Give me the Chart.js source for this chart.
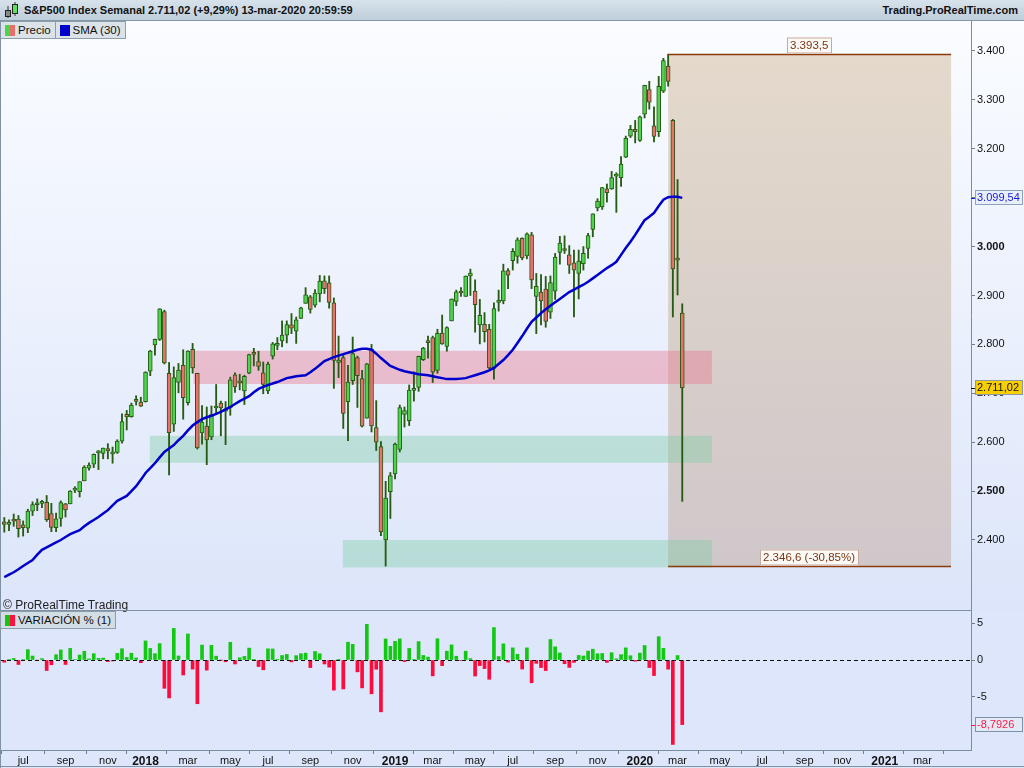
<!DOCTYPE html>
<html>
<head>
<meta charset="utf-8">
<title>S&amp;P500 Index Semanal</title>
<script src="https://cdn.jsdelivr.net/npm/chart.js@4.4.1/dist/chart.umd.min.js"></script>
<style>
    body { margin: 0; background: #dfe7f9; font-family: "Liberation Sans", Arial, sans-serif; }
    #wrap { position: relative; width: 1024px; height: 768px; overflow: hidden; }
    #mainBg { position: absolute; left: 0; top: 21px; width: 1024px; height: 590px; background: linear-gradient(#fafcff, #dce5fa); }
    #lowBg { position: absolute; left: 0; top: 611px; width: 1024px; height: 157px; background: #dde6fb; }
    #header { position: absolute; left: 0; top: 0; width: 1024px; height: 20px; background: linear-gradient(#d7e2eb, #bfcedb); border-bottom: 1px solid #8597a8; }
    #title { position: absolute; left: 24px; top: 4px; font-size: 11px; font-weight: bold; color: #111; white-space: nowrap; }
    #site { position: absolute; right: 6px; top: 4px; font-size: 11px; font-weight: bold; color: #111; }
    .legRow { position: absolute; left: 0; display: flex; }
    .leg { position: relative; height: 16px; background: #dbe2e8; border: 1px solid #8d9dab; margin-right: -1px;
           font-size: 11.5px; color: #111; line-height: 16px; white-space: nowrap; padding: 0 4px 0 17px; }
    .ico { position: absolute; left: 4px; top: 3px; width: 10px; height: 11px; }
    canvas { position: absolute; left: 0; }
    #copy { position: absolute; left: 3px; top: 598px; font-size: 12px; color: #222; }
    .line { position: absolute; background: #7f91a3; }
</style>
</head>
<body>
<div id="wrap">
    <div id="mainBg"></div>
    <div id="lowBg"></div>

    <canvas id="priceChart" width="1024" height="590" style="top:21px"></canvas>
    <canvas id="varChart" width="1024" height="157" style="top:611px"></canvas>

    <div id="header">
        <svg width="20" height="20" style="position:absolute;left:2px;top:0">
            <line x1="6" y1="6" x2="6" y2="18" stroke="#333" stroke-width="1"/>
            <rect x="3.5" y="10.5" width="5" height="6" fill="#888" stroke="#222"/>
            <line x1="13" y1="2" x2="13" y2="16" stroke="#333" stroke-width="1"/>
            <rect x="10.5" y="4.5" width="5" height="9" fill="#5ee05e" stroke="#222"/>
        </svg>
        <div id="title">S&amp;P500 Index Semanal 2.711,02 (+9,29%) 13-mar-2020 20:59:59</div>
        <div id="site">Trading.ProRealTime.com</div>
    </div>

    <div class="legRow" style="top:21px">
        <div class="leg">
            <span class="ico" style="background:linear-gradient(90deg,#4cd44c 50%,#e8706a 50%)"></span>Precio
        </div>
        <div class="leg">
            <span class="ico" style="background:#0000cc"></span>SMA (30)
        </div>
    </div>

    <div id="copy">© ProRealTime Trading</div>
    <div class="line" style="left:0;top:610px;width:971px;height:1px"></div>
    <div class="line" style="left:0;top:21px;width:1px;height:747px"></div>
    <div class="line" style="left:0;top:766px;width:1024px;height:1px"></div>

    <div class="legRow" style="top:611px">
        <div class="leg" style="background:#d3dde6">
            <span class="ico" style="background:linear-gradient(90deg,#11c811 50%,#ff1040 50%)"></span>VARIACIÓN % (1)
        </div>
    </div>
</div>

<script>
// weekly bars, first bar = week of 5 Jun 2017, last = week of 9 Mar 2020
const opens = [
    2437, 2432, 2443, 2443, 2431, 2424, 2459, 2472, 2475, 2477,
    2454, 2425, 2444, 2474, 2474, 2502, 2499, 2521, 2547, 2555,
    2578, 2577, 2587, 2576, 2579, 2602, 2657, 2652, 2685, 2682,
    2683, 2745, 2799, 2810, 2867, 2741, 2637, 2722, 2757, 2681,
    2790, 2741, 2619, 2633, 2611, 2670, 2680, 2668, 2670, 2738,
    2725, 2705, 2741, 2780, 2765, 2742, 2705, 2776, 2798, 2807,
    2819, 2840, 2827, 2853, 2884, 2897, 2880, 2903, 2930, 2926,
    2885, 2763, 2773, 2683, 2726, 2773, 2730, 2649, 2790, 2630,
    2591, 2400, 2499, 2535, 2585, 2657, 2644, 2706, 2712, 2769,
    2804, 2814, 2747, 2823, 2796, 2848, 2888, 2908, 2898, 2940,
    2909, 2840, 2841, 2831, 2751, 2886, 2889, 2951, 2971, 2980,
    3017, 2981, 3024, 2898, 2907, 2913, 2866, 2909, 2988, 2996,
    2983, 2967, 2945, 2965, 2996, 3035, 3079, 3081, 3118, 3118,
    3144, 3141, 3183, 3226, 3240, 3217, 3271, 3321, 3247, 3235,
    3318, 3369, 3258, 2974, 2864
];

const highs = [
    2446, 2441, 2453, 2450, 2439, 2463, 2478, 2484, 2481, 2491,
    2475, 2455, 2480, 2475, 2501, 2509, 2519, 2552, 2558, 2576,
    2583, 2588, 2597, 2590, 2605, 2658, 2665, 2680, 2695, 2692,
    2744, 2788, 2811, 2873, 2870, 2763, 2754, 2761, 2789, 2787,
    2802, 2741, 2675, 2672, 2674, 2718, 2684, 2683, 2733, 2742,
    2739, 2737, 2780, 2792, 2786, 2764, 2764, 2804, 2814, 2848,
    2848, 2863, 2856, 2876, 2916, 2900, 2912, 2941, 2940, 2940,
    2895, 2817, 2779, 2757, 2815, 2776, 2747, 2761, 2800, 2685,
    2601, 2520, 2538, 2598, 2676, 2672, 2717, 2744, 2776, 2794,
    2817, 2817, 2831, 2860, 2836, 2893, 2911, 2916, 2940, 2954,
    2932, 2892, 2865, 2841, 2885, 2911, 2964, 2955, 2996, 3018,
    3018, 3028, 3029, 2945, 2943, 2939, 2940, 2986, 3021, 3022,
    3002, 2993, 2993, 3000, 3027, 3067, 3098, 3121, 3128, 3154,
    3151, 3184, 3226, 3248, 3258, 3267, 3330, 3338, 3286, 3348,
    3385, 3393.5, 3260, 3137, 2883
];

const lows = [
    2416, 2419, 2428, 2406, 2408, 2415, 2450, 2460, 2466, 2438,
    2417, 2417, 2428, 2447, 2474, 2497, 2488, 2521, 2543, 2548,
    2544, 2566, 2566, 2557, 2577, 2598, 2625, 2651, 2676, 2673,
    2682, 2736, 2778, 2808, 2760, 2533, 2622, 2701, 2647, 2676,
    2741, 2586, 2596, 2554, 2605, 2660, 2613, 2595, 2655, 2702,
    2707, 2677, 2740, 2756, 2747, 2699, 2699, 2770, 2789, 2795,
    2803, 2822, 2802, 2853, 2884, 2864, 2876, 2887, 2904, 2874,
    2710, 2732, 2628, 2603, 2718, 2671, 2631, 2649, 2621, 2583,
    2409, 2346.6, 2444, 2525, 2580, 2631, 2634, 2684, 2704, 2767,
    2772, 2722, 2741, 2800, 2786, 2848, 2879, 2898, 2898, 2900,
    2825, 2801, 2805, 2750, 2729, 2868, 2883, 2914, 2952, 2966,
    2973, 2975, 2914, 2822, 2840, 2835, 2853, 2892, 2964, 2986,
    2945, 2856, 2893, 2952, 2976, 3020, 3073, 3076, 3091, 3117,
    3070, 3123, 3182, 3223, 3212, 3215, 3263, 3281, 3214, 3225,
    3315, 3328, 2856, 2901, 2479
];

const closes = [
    2431.77, 2433.15, 2438.30, 2423.41, 2425.18, 2459.27, 2472.54, 2472.10, 2476.83, 2441.32,
    2425.55, 2443.05, 2476.55, 2461.43, 2500.23, 2502.22, 2519.36, 2549.33, 2553.17, 2575.21,
    2581.07, 2587.84, 2582.30, 2578.85, 2602.42, 2642.22, 2651.50, 2675.81, 2683.34, 2673.61,
    2743.15, 2786.24, 2810.30, 2872.87, 2762.13, 2619.55, 2732.22, 2747.30, 2691.25, 2786.57,
    2752.01, 2588.26, 2640.87, 2604.47, 2656.30, 2670.14, 2669.91, 2663.42, 2727.72, 2712.97,
    2721.33, 2734.62, 2779.03, 2779.66, 2754.88, 2718.37, 2759.82, 2801.31, 2801.83, 2818.82,
    2840.35, 2833.28, 2850.13, 2874.69, 2901.52, 2871.68, 2904.98, 2929.67, 2913.98, 2885.57,
    2767.13, 2767.78, 2658.69, 2723.06, 2781.01, 2736.27, 2632.56, 2760.17, 2633.08, 2599.95,
    2416.62, 2485.74, 2531.94, 2596.26, 2670.71, 2664.76, 2706.53, 2707.88, 2775.60, 2792.67,
    2803.69, 2743.07, 2822.48, 2800.71, 2834.40, 2892.74, 2907.41, 2905.03, 2939.88, 2945.64,
    2881.40, 2859.53, 2826.06, 2752.06, 2873.34, 2886.98, 2950.46, 2941.76, 2990.41, 3013.77,
    2976.61, 3025.86, 2932.05, 2918.65, 2888.68, 2847.11, 2926.46, 2978.71, 3007.39, 2992.07,
    2961.79, 2952.01, 2970.27, 2986.20, 3022.55, 3066.91, 3093.08, 3120.46, 3110.29, 3140.98,
    3145.91, 3168.80, 3221.22, 3240.02, 3234.85, 3265.35, 3329.62, 3295.47, 3225.52, 3327.71,
    3380.16, 3337.75, 2954.22, 2972.37, 2711.02
];

// SMA (30)
const sma30 = [
    2324, 2329, 2334, 2340, 2347, 2353, 2359, 2370, 2380, 2385,
    2390, 2395, 2400, 2406, 2412, 2416, 2420, 2428, 2435, 2441,
    2447, 2454, 2461, 2471, 2480, 2485, 2490, 2500, 2510, 2523,
    2537, 2547, 2557, 2569, 2580, 2587, 2594, 2604, 2613, 2624,
    2634, 2641, 2647, 2651, 2654, 2658, 2662, 2667, 2672, 2678,
    2684, 2689, 2694, 2702, 2709, 2713, 2717, 2720, 2723, 2727,
    2731, 2733, 2735, 2736, 2737, 2743, 2750, 2758, 2766, 2770,
    2774, 2777, 2780, 2783, 2786, 2789, 2791, 2791, 2789, 2781,
    2772, 2764, 2756, 2752, 2748, 2745, 2743, 2741, 2739, 2738,
    2737, 2735, 2733, 2731, 2729, 2729, 2729, 2730, 2731, 2734,
    2737, 2740, 2743, 2747, 2752, 2760, 2768, 2778, 2789, 2803,
    2817, 2832, 2846, 2855, 2864, 2872, 2879, 2886, 2893, 2900,
    2907, 2912, 2917, 2922, 2928, 2935, 2942, 2949, 2956, 2962,
    2969, 2983, 2997, 3010, 3024, 3039, 3054, 3061, 3069, 3083,
    3096, 3101, 3102, 3102, 3099.54
];

// VARIACIÓN % (1), weekly change
const variation = [
    -0.30, 0.06, 0.21, -0.61, 0.07, 1.41, 0.54, -0.02, 0.19, -1.43,
    -0.65, 0.72, 1.37, -0.61, 1.58, 0.08, 0.68, 1.19, 0.15, 0.86,
    0.23, 0.26, -0.21, -0.13, 0.91, 1.53, 0.35, 0.92, 0.28, -0.36,
    2.60, 1.57, 0.86, 2.23, -3.85, -5.16, 4.30, 0.55, -2.04, 3.54,
    -1.24, -5.95, 2.03, -1.38, 1.99, 0.52, -0.01, -0.24, 2.41, -0.54,
    0.31, 0.49, 1.62, 0.02, -0.89, -1.33, 1.52, 1.50, 0.02, 0.61,
    0.76, -0.25, 0.59, 0.86, 0.93, -1.03, 1.16, 0.85, -0.54, -0.97,
    -4.10, 0.02, -3.94, 2.42, 2.13, -1.61, -3.79, 4.85, -4.60, -1.26,
    -7.05, 2.86, 1.86, 2.54, 2.87, -0.22, 1.57, 0.05, 2.50, 0.62,
    0.39, -2.16, 2.89, -0.77, 1.20, 2.06, 0.51, -0.08, 1.20, 0.20,
    -2.18, -0.76, -1.17, -2.62, 4.41, 0.47, 2.20, -0.29, 1.65, 0.78,
    -1.23, 1.65, -3.10, -0.46, -1.03, -1.44, 2.79, 1.79, 0.96, -0.51,
    -1.01, -0.33, 0.62, 0.54, 1.22, 1.47, 0.85, 0.89, -0.33, 0.99,
    0.16, 0.73, 1.65, 0.58, -0.16, 0.94, 1.97, -1.03, -2.12, 3.17,
    1.58, -1.25, -11.49, 0.61, -8.7926
];

const priceTicks = [2400, 2500, 2600, 2700, 2800, 2900, 3000, 3100, 3200, 3300, 3400];
const boldPriceTicks = [2500, 3000];
const varTicks = [-5, 0, 5];

const xTickMonths = [
    [2017, 6], [2017, 8], [2017, 10],
    [2018, 0], [2018, 2], [2018, 4], [2018, 6], [2018, 8], [2018, 10],
    [2019, 0], [2019, 2], [2019, 4], [2019, 6], [2019, 8], [2019, 10],
    [2020, 0], [2020, 2], [2020, 4], [2020, 6], [2020, 8], [2020, 10],
    [2021, 0], [2021, 2], [2021, 4]
];
const xTickLabels = [
    "jul", "sep", "nov",
    "2018", "mar", "may", "jul", "sep", "nov",
    "2019", "mar", "may", "jul", "sep", "nov",
    "2020", "mar", "may", "jul", "sep", "nov",
    "2021", "mar", ""
];

// support / resistance zones (bar span, price span)
const zoneBars = [[40.2, 150.3], [30.9, 150.3], [71.9, 150.3]];
const zoneLevels = [[2719, 2787], [2558, 2613], [2344, 2400]];
const zoneColors = ["rgba(232,120,140,0.42)", "rgba(120,205,160,0.38)", "rgba(120,205,160,0.38)"];

// high / low measure box
const rangeBars = [141.0, 201.1];
const rangeLevels = [3393.5, 2346.6];

const firstWeek = Date.UTC(2017, 5, 5);
const monthTickBars = xTickMonths.map(([yy, mm]) =>
    Math.ceil((Date.UTC(yy, mm, 1) - firstWeek) / (7 * 864e5))
);

const X_MIN = -0.913;
const X_MAX = 205.33;

const UP = "#4fd34f";
const DOWN = "#e8716b";
const EDGE = "#275a12";
const FONT = "'Liberation Sans', Arial, sans-serif";

Chart.defaults.font.family = FONT;
Chart.defaults.font.size = 11;
Chart.defaults.color = "#111";

// ======================================
// helpers
// ======================================

function fmtEs(v, dec) {
    const neg = v < 0;
    const parts = Math.abs(v).toFixed(dec).split(".");
    const int = parts[0].replace(/\B(?=(\d{3})+(?!\d))/g, ".");
    return (neg ? "-" : "") + int + (parts[1] ? "," + parts[1] : "");
}

function boxLabel(ctx, x, yMid, w, text, bg, fg, border) {
    const h = 15;
    const top = Math.round(yMid - h / 2);
    ctx.fillStyle = bg;
    ctx.fillRect(x, top, w, h);
    ctx.strokeStyle = border;
    ctx.lineWidth = 1;
    ctx.strokeRect(x + 0.5, top + 0.5, w - 1, h - 1);
    ctx.fillStyle = fg;
    ctx.font = "11px " + FONT;
    ctx.textAlign = "left";
    ctx.textBaseline = "middle";
    ctx.fillText(text, x + 2, top + h / 2 + 0.5);
}

function flatAxis(scale, vertical) {
    if (vertical) {
        scale.width = 53;
        scale.paddingTop = 0;
        scale.paddingBottom = 0;
    } else {
        scale.height = 18;
        scale.paddingLeft = 0;
        scale.paddingRight = 0;
    }
}

// ======================================
// Price panel plugin
// ======================================

const pricePlugin = {
    id: "pricePlugin",
    beforeDatasetsDraw(chart) {
        const { ctx, scales: { x, y } } = chart;
        ctx.save();

        const bx1 = x.getPixelForValue(rangeBars[0]);
        const bx2 = x.getPixelForValue(rangeBars[1]);
        const by1 = y.getPixelForValue(rangeLevels[0]);
        const by2 = y.getPixelForValue(rangeLevels[1]);
        const g = ctx.createLinearGradient(0, by1, 0, by2);
        g.addColorStop(0, "#e4d9cb");
        g.addColorStop(1, "#cfc7ca");
        ctx.fillStyle = g;
        ctx.fillRect(bx1, by1, bx2 - bx1, by2 - by1);

        zoneLevels.forEach((lv, k) => {
            const zx1 = x.getPixelForValue(zoneBars[k][0]);
            const zx2 = x.getPixelForValue(zoneBars[k][1]);
            const zy1 = y.getPixelForValue(lv[1]);
            const zy2 = y.getPixelForValue(lv[0]);
            ctx.fillStyle = zoneColors[k];
            ctx.fillRect(zx1, zy1, zx2 - zx1, zy2 - zy1);
        });

        ctx.restore();
    },
    afterDraw(chart) {
        const { ctx, scales: { x, y } } = chart;
        ctx.save();

        const bx1 = x.getPixelForValue(rangeBars[0]);
        const bx2 = x.getPixelForValue(rangeBars[1]);
        const by1 = Math.round(y.getPixelForValue(rangeLevels[0])) + 0.5;
        const by2 = Math.round(y.getPixelForValue(rangeLevels[1])) + 0.5;
        ctx.strokeStyle = "#8b3a08";
        ctx.lineWidth = 1.5;
        ctx.beginPath();
        ctx.moveTo(bx1, by1); ctx.lineTo(bx2, by1);
        ctx.moveTo(bx1, by2); ctx.lineTo(bx2, by2);
        ctx.stroke();

        // range labels
        const cx = (bx1 + bx2) / 2;
        const pct = (rangeLevels[1] / rangeLevels[0] - 1) * 100;
        const labels = [
            [fmtEs(rangeLevels[0], 1), by1],
            [fmtEs(rangeLevels[1], 1) + " (" + fmtEs(pct, 2) + "%)", by2]
        ];
        ctx.font = "11.5px " + FONT;
        labels.forEach(([txt, ly]) => {
            const w = Math.ceil(ctx.measureText(txt).width) + 6;
            const left = Math.round(cx - w / 2);
            ctx.fillStyle = "#fcfaf7";
            ctx.fillRect(left, ly - 17, w, 16);
            ctx.strokeStyle = "#c9a999";
            ctx.lineWidth = 1;
            ctx.strokeRect(left + 0.5, ly - 16.5, w - 1, 15);
            ctx.fillStyle = "#7b3510";
            ctx.textAlign = "left";
            ctx.textBaseline = "middle";
            ctx.fillText(txt, left + 3, ly - 8.5);
        });

        // last value labels on the price axis
        const axisX = chart.chartArea.right;
        const smaLast = sma30[sma30.length - 1];
        const closeLast = closes[closes.length - 1];

        let ly = y.getPixelForValue(smaLast);
        ctx.lineWidth = 1;
        ctx.strokeStyle = "#1a1ad8";
        ctx.beginPath(); ctx.moveTo(axisX, Math.round(ly) + 0.5); ctx.lineTo(axisX + 5, Math.round(ly) + 0.5); ctx.stroke();
        boxLabel(ctx, axisX + 4, ly, 48, fmtEs(smaLast, 2), "#e9eff9", "#1a1ad8", "#8ea2bc");

        ly = y.getPixelForValue(closeLast);
        ctx.strokeStyle = "#111";
        ctx.beginPath(); ctx.moveTo(axisX, Math.round(ly) + 0.5); ctx.lineTo(axisX + 5, Math.round(ly) + 0.5); ctx.stroke();
        boxLabel(ctx, axisX + 4, ly, 48, fmtEs(closeLast, 2), "#f7cf00", "#111", "#8f98a2");

        ctx.restore();
    }
};

// ======================================
// Price chart
// ======================================

new Chart(document.getElementById("priceChart"), {
    type: "bar",
    data: {
        datasets: [
            {
                type: "line",
                data: sma30.map((v, i) => ({ x: i, y: v })),
                borderColor: "#0000cc",
                borderWidth: 2.5,
                pointRadius: 0,
                tension: 0,
                order: 0
            },
            {
                data: opens.map((o, i) => ({ x: i, y: [o, closes[i]] })),
                backgroundColor: opens.map((o, i) => closes[i] >= o ? UP : DOWN),
                borderColor: EDGE,
                borderWidth: 1,
                borderSkipped: false,
                barThickness: 4,
                minBarLength: 2,
                grouped: false,
                order: 1
            },
            {
                data: lows.map((l, i) => ({ x: i, y: [l, highs[i]] })),
                backgroundColor: EDGE,
                borderWidth: 0,
                barThickness: 1.2,
                grouped: false,
                order: 2
            }
        ]
    },
    options: {
        responsive: false,
        animation: false,
        devicePixelRatio: 1,
        events: [],
        layout: { padding: 0 },
        plugins: {
            legend: { display: false },
            tooltip: { enabled: false }
        },
        scales: {
            x: {
                type: "linear",
                min: X_MIN,
                max: X_MAX,
                offset: false,
                display: false
            },
            y: {
                position: "right",
                min: 2254.8,
                max: 3461.3,
                afterFit: s => flatAxis(s, true),
                afterBuildTicks: s => { s.ticks = priceTicks.map(v => ({ value: v })); },
                ticks: {
                    padding: 2,
                    color: "#111",
                    callback: v => fmtEs(v, 0),
                    font: c => ({
                        family: FONT,
                        size: 11,
                        weight: c.tick && boldPriceTicks.includes(c.tick.value) ? "bold" : "normal"
                    })
                },
                grid: { drawOnChartArea: false, tickLength: 4, color: "#6d8091" },
                border: { color: "#7b8ea0", width: 1 }
            }
        }
    },
    plugins: [pricePlugin]
});

// ======================================
// Variation panel
// ======================================

const varPlugin = {
    id: "varPlugin",
    afterDatasetsDraw(chart) {
        const { ctx, chartArea, scales: { y } } = chart;
        const y0 = Math.round(y.getPixelForValue(0)) + 0.5;
        ctx.save();
        ctx.strokeStyle = "#111";
        ctx.lineWidth = 1;
        ctx.setLineDash([4, 3]);
        ctx.beginPath();
        ctx.moveTo(chartArea.left, y0);
        ctx.lineTo(chartArea.right, y0);
        ctx.stroke();
        ctx.restore();
    },
    afterDraw(chart) {
        const { ctx, chartArea, scales: { y } } = chart;
        const last = variation[variation.length - 1];
        const ly = y.getPixelForValue(last);
        ctx.save();
        ctx.strokeStyle = "#ff1a45";
        ctx.lineWidth = 1;
        ctx.beginPath();
        ctx.moveTo(chartArea.right, Math.round(ly) + 0.5);
        ctx.lineTo(chartArea.right + 5, Math.round(ly) + 0.5);
        ctx.stroke();
        boxLabel(ctx, chartArea.right + 4, ly, 48, fmtEs(last, 4), "#e3eaf6", "#ff1a45", "#7f92a8");
        ctx.restore();
    }
};

new Chart(document.getElementById("varChart"), {
    type: "bar",
    data: {
        datasets: [{
            data: variation.map((v, i) => ({ x: i, y: v })),
            backgroundColor: variation.map(v => v >= 0 ? "#12c812" : "#ff0a3c"),
            borderWidth: 0,
            barThickness: 3
        }]
    },
    options: {
        responsive: false,
        animation: false,
        devicePixelRatio: 1,
        events: [],
        layout: { padding: 0 },
        plugins: {
            legend: { display: false },
            tooltip: { enabled: false }
        },
        scales: {
            x: {
                type: "linear",
                position: "bottom",
                min: X_MIN,
                max: X_MAX,
                offset: false,
                afterFit: s => flatAxis(s, false),
                afterBuildTicks: s => { s.ticks = monthTickBars.map(v => ({ value: v })); },
                ticks: {
                    autoSkip: false,
                    maxRotation: 0,
                    padding: 0,
                    color: "#111",
                    callback: (v, i) => xTickLabels[i],
                    font: c => {
                        const yr = c.tick && /^\d{4}$/.test(String(c.tick.label));
                        return { family: FONT, size: yr ? 12 : 11, weight: yr ? "bold" : "normal" };
                    }
                },
                grid: { drawOnChartArea: false, tickLength: 4, color: "#6d8091" },
                border: { color: "#7b8ea0", width: 1 }
            },
            y: {
                position: "right",
                min: -12.245,
                max: 6.667,
                afterFit: s => flatAxis(s, true),
                afterBuildTicks: s => { s.ticks = varTicks.map(v => ({ value: v })); },
                ticks: {
                    padding: 2,
                    color: "#111",
                    font: { family: FONT, size: 11 },
                    callback: v => String(v)
                },
                grid: { drawOnChartArea: false, tickLength: 4, color: "#6d8091" },
                border: { color: "#7b8ea0", width: 1 }
            }
        }
    },
    plugins: [varPlugin]
});
</script>
</body>
</html>
